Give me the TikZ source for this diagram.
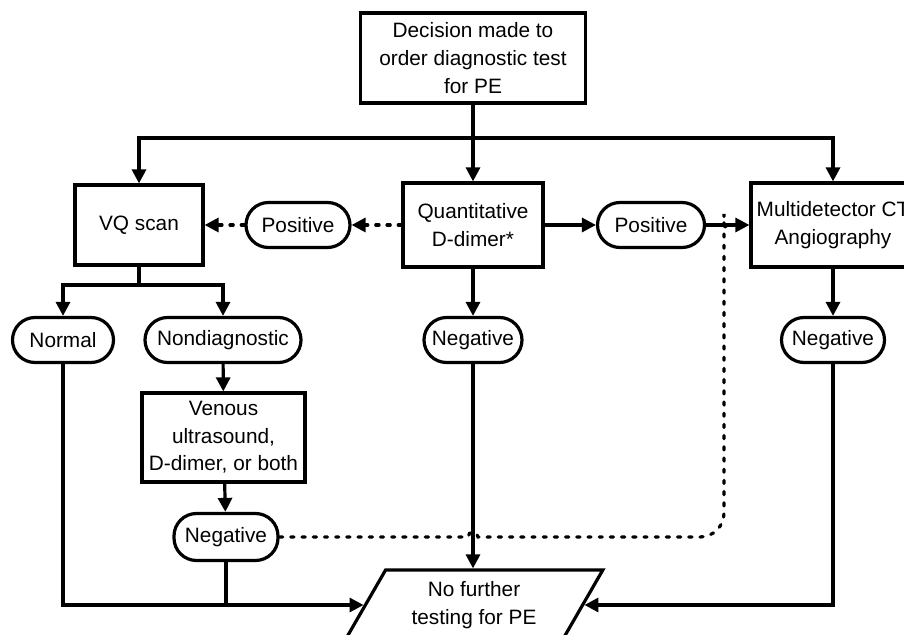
\documentclass[tikz,border=0pt]{standalone}
\usepackage{fontspec}
\setmainfont{Liberation Sans}
\usetikzlibrary{arrows.meta, shapes.geometric}

\begin{document}
\begin{tikzpicture}[x=0.5pt, y=-0.5pt, line width=1.6pt,
	every node/.style={font=\fontsize{10.4}{13.8}\selectfont, align=center, inner sep=1pt},
	box/.style={draw, rectangle},
	pill/.style={draw, rectangle, rounded corners=11.25pt, minimum height=22.5pt},
	arr/.style={-{Triangle[length=7pt,width=7pt]}},
	dots/.style={dash pattern=on 1.6pt off 4pt, line cap=round}] % picture is cut off at right and bottom

	\clip (0,0) rectangle (904,635);

	\node[box, minimum width=112.5pt, minimum height=45pt] (decision) at (473,58) {Decision made to\\order diagnostic test\\for PE};
	\node[box, minimum width=64pt, minimum height=40pt] (vq) at (139,225) {VQ scan};
	\node[pill, minimum width=52pt] (posL) at (298,225) {Positive};
	\node[box, minimum width=70pt, minimum height=42pt] (quant) at (473,225) {Quantitative\\D-dimer*};
	\node[pill, minimum width=53.5pt] (posR) at (651,225) {Positive};
	\node[box, minimum width=82pt, minimum height=42pt, inner xsep=0pt] (mdct) at (833,225) {Multidetector CT\\Angiography};
	\node[pill, minimum width=50.5pt] (normal) at (63,340) {Normal};
	\node[pill, minimum width=78pt] (nondiag) at (223,340) {Nondiagnostic};
	\node[pill, minimum width=49pt] (negM) at (473,340) {Negative};
	\node[pill, minimum width=51.5pt] (negR) at (833,340) {Negative};
	\node[box, minimum width=81.5pt, minimum height=44.5pt] (venous) at (223.5,437.5) {Venous\\ultrasound,\\D-dimer, or both};
	\node[pill, minimum width=52pt, minimum height=23.5pt] (negB) at (226,537) {Negative};
	\node[draw, trapezium, trapezium left angle=60, trapezium right angle=120, minimum width=120pt, minimum height=35pt] (nofurther) at (474,605) {No further\\testing for PE};

	\coordinate (split) at (473,138);
	\coordinate (vqsplit) at (139,285);
	\coordinate (dotcorner) at (724,537);
	\coordinate (dottop) at (724,238);
	\coordinate (dotjoin) at (732,225);

	\draw (decision) -- (split);
	\draw[arr] (split) -| (vq);
	\draw[arr] (split) -- (quant);
	\draw[arr] (split) -| (mdct);

	\draw[arr, dots] (quant) -- (posL);
	\draw[arr, dots] (posL) -- (vq);
	\draw[arr] (quant) -- (posR);
	\draw[arr] (posR) -- (mdct);

	\draw (vq) -- (vqsplit);
	\draw[arr] (vqsplit) -| (normal);
	\draw[arr] (vqsplit) -| (nondiag);
	\draw[arr] (nondiag) -- (venous);
	\draw[arr] (venous) -- (negB);
	\draw[arr] (quant) -- (negM);
	\draw[arr] (mdct) -- (negR);

	\draw[arr] (normal) |- (nofurther.west);
	\draw (negB) -- (negB |- nofurther.west);
	\draw[arr] (negM) -- (negM |- nofurther.north);
	\draw[arr] (negR) |- (nofurther.east);

	\draw[dots] (negB.east) -- ([xshift=-2.5pt]negM.south |- negB.east) arc[start angle=180, end angle=0, radius=2.5pt]
		[rounded corners=12pt] -- (dotcorner) -- (dottop) [sharp corners] .. controls (724,229) .. (dotjoin);

\end{tikzpicture}
\end{document}
